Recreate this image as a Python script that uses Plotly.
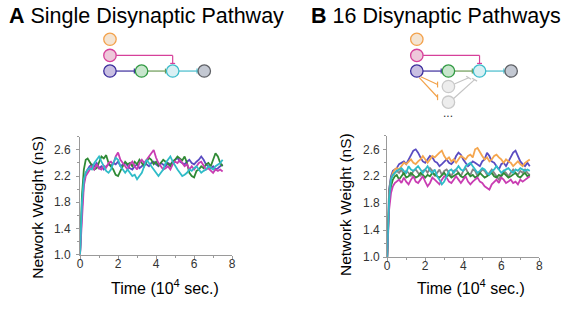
import plotly.graph_objects as go

# ---------------- data ----------------
time = [0, 0.1, 0.2, 0.3, 0.4, 0.5,
        0.625, 0.75, 0.875, 1.0, 1.125, 1.25, 1.375, 1.5,
        1.625, 1.75, 1.875, 2.0, 2.125, 2.25, 2.375, 2.5,
        2.625, 2.75, 2.875, 3.0, 3.125, 3.25, 3.375, 3.5,
        3.625, 3.75, 3.875, 4.0, 4.125, 4.25, 4.375, 4.5,
        4.625, 4.75, 4.875, 5.0, 5.125, 5.25, 5.375, 5.5,
        5.625, 5.75, 5.875, 6.0, 6.125, 6.25, 6.375, 6.5,
        6.625, 6.75, 6.875, 7.0, 7.125, 7.25, 7.375, 7.5]

a_purple = [1.0, 1.7, 2.1, 2.25, 2.3, 2.35,
            2.38, 2.35, 2.4, 2.32, 2.35, 2.3, 2.35, 2.38,
            2.35, 2.4, 2.38, 2.42, 2.35, 2.38, 2.4, 2.36,
            2.32, 2.3, 2.35, 2.38, 2.32, 2.35, 2.4, 2.38,
            2.35, 2.4, 2.42, 2.38, 2.35, 2.4, 2.38, 2.35,
            2.4, 2.38, 2.42, 2.45, 2.48, 2.42, 2.4, 2.38,
            2.42, 2.45, 2.4, 2.38, 2.42, 2.45, 2.5, 2.45,
            2.38, 2.35, 2.32, 2.35, 2.3, 2.32, 2.35, 2.38]
a_green = [1.0, 1.9, 2.3, 2.45, 2.47, 2.42,
           2.35, 2.3, 2.32, 2.42, 2.5, 2.47, 2.52, 2.4,
           2.35, 2.3, 2.22, 2.2, 2.28, 2.35, 2.42, 2.38,
           2.4, 2.35, 2.42, 2.38, 2.45, 2.4, 2.35, 2.42,
           2.48, 2.45, 2.38, 2.42, 2.36, 2.4, 2.45, 2.42,
           2.38, 2.35, 2.42, 2.45, 2.5, 2.47, 2.44, 2.5,
           2.4, 2.25, 2.2, 2.18, 2.28, 2.3, 2.35, 2.32,
           2.38, 2.4, 2.35, 2.45, 2.55, 2.5, 2.4, 2.35]
a_magenta = [1.0, 1.6, 2.05, 2.2, 2.25, 2.3,
             2.35, 2.3, 2.38, 2.32, 2.3, 2.36, 2.33, 2.4,
             2.42, 2.38, 2.5, 2.56, 2.45, 2.4, 2.35, 2.3,
             2.38, 2.42, 2.35, 2.3, 2.4, 2.45, 2.4, 2.45,
             2.5, 2.55, 2.6, 2.48, 2.4, 2.35, 2.3, 2.32,
             2.35, 2.3, 2.38, 2.42, 2.4, 2.45, 2.4, 2.35,
             2.38, 2.3, 2.35, 2.3, 2.35, 2.4, 2.42, 2.35,
             2.3, 2.32, 2.28, 2.25, 2.3, 2.28, 2.3, 2.27]
a_cyan = [1.0, 1.8, 2.15, 2.25, 2.3, 2.32,
          2.3, 2.4, 2.45, 2.5, 2.42, 2.35, 2.28, 2.25,
          2.3, 2.4, 2.48, 2.45, 2.35, 2.3, 2.25, 2.3,
          2.25, 2.2, 2.22, 2.15, 2.2, 2.25, 2.35, 2.45,
          2.4, 2.35, 2.3, 2.25, 2.2, 2.25, 2.3, 2.4,
          2.45, 2.5, 2.42, 2.35, 2.3, 2.25, 2.2, 2.22,
          2.25, 2.3, 2.28, 2.32, 2.35, 2.3, 2.25, 2.28,
          2.3, 2.35, 2.32, 2.3, 2.35, 2.38, 2.4, 2.45]

b_purple = [1.0, 2.0, 2.2, 2.28, 2.3, 2.32,
            2.38, 2.4, 2.42, 2.38, 2.45, 2.5, 2.58, 2.6,
            2.55, 2.48, 2.42, 2.4, 2.45, 2.5, 2.48, 2.42,
            2.4, 2.35, 2.38, 2.42, 2.45, 2.4, 2.38, 2.42,
            2.5, 2.55, 2.52, 2.45, 2.4, 2.35, 2.38, 2.42,
            2.4, 2.38, 2.35, 2.42, 2.45, 2.55, 2.5, 2.42,
            2.4, 2.35, 2.3, 2.38, 2.4, 2.35, 2.42, 2.5,
            2.55, 2.58, 2.5, 2.42, 2.38, 2.35, 2.4, 2.35]
b_orange = [1.0, 1.9, 2.15, 2.25, 2.3, 2.32,
            2.3, 2.35, 2.4, 2.38, 2.42, 2.45, 2.4, 2.38,
            2.42, 2.45, 2.5, 2.45, 2.4, 2.45, 2.5, 2.48,
            2.52, 2.55, 2.58, 2.5, 2.45, 2.48, 2.42, 2.45,
            2.4, 2.45, 2.5, 2.48, 2.45, 2.5, 2.52, 2.48,
            2.6, 2.62, 2.55, 2.5, 2.45, 2.48, 2.42, 2.45,
            2.5, 2.52, 2.48, 2.45, 2.4, 2.45, 2.42, 2.4,
            2.35, 2.38, 2.42, 2.38, 2.35, 2.4, 2.42, 2.45]
b_gray = [1.0, 2.0, 2.18, 2.22, 2.25, 2.28,
          2.25, 2.3, 2.22, 2.28, 2.25, 2.2, 2.28, 2.3,
          2.25, 2.2, 2.28, 2.3, 2.25, 2.32, 2.28, 2.2,
          2.25, 2.3, 2.22, 2.28, 2.3, 2.25, 2.2, 2.28,
          2.3, 2.25, 2.2, 2.28, 2.32, 2.25, 2.22, 2.3,
          2.28, 2.2, 2.25, 2.3, 2.28, 2.22, 2.25, 2.3,
          2.25, 2.2, 2.15, 2.22, 2.28, 2.25, 2.2, 2.25,
          2.3, 2.25, 2.22, 2.28, 2.25, 2.3, 2.25, 2.22]
b_green = [1.0, 1.8, 2.05, 2.15, 2.2, 2.22,
           2.15, 2.2, 2.25, 2.18, 2.2, 2.25, 2.22, 2.18,
           2.2, 2.25, 2.22, 2.18, 2.22, 2.2, 2.25, 2.22,
           2.2, 2.18, 2.22, 2.25, 2.2, 2.22, 2.18, 2.2,
           2.22, 2.25, 2.2, 2.18, 2.22, 2.25, 2.2, 2.22,
           2.18, 2.2, 2.25, 2.22, 2.18, 2.2, 2.22, 2.25,
           2.2, 2.18, 2.22, 2.2, 2.25, 2.22, 2.18, 2.2,
           2.22, 2.25, 2.2, 2.18, 2.22, 2.25, 2.2, 2.22]
b_magenta = [1.0, 1.7, 1.95, 2.05, 2.1, 2.12,
             2.15, 2.1, 2.18, 2.12, 2.08, 2.15, 2.2, 2.12,
             2.1, 2.15, 2.2, 2.12, 2.05, 2.1, 2.18, 2.15,
             2.12, 2.08, 2.15, 2.2, 2.18, 2.12, 2.1, 2.15,
             2.2, 2.15, 2.1, 2.15, 2.2, 2.12, 2.08, 2.12,
             2.15, 2.18, 2.12, 2.1, 2.05, 2.02, 2.0, 2.08,
             2.12, 2.15, 2.1, 2.18, 2.15, 2.1, 2.12, 2.15,
             2.1, 2.12, 2.08, 2.15, 2.12, 2.15, 2.18, 2.2]
b_cyan = [1.0, 1.85, 2.15, 2.22, 2.25, 2.28,
          2.3, 2.32, 2.28, 2.25, 2.35, 2.3, 2.28, 2.32,
          2.35, 2.3, 2.25, 2.3, 2.35, 2.28, 2.25, 2.3,
          2.2, 2.15, 2.08, 2.12, 2.2, 2.28, 2.3, 2.25,
          2.3, 2.35, 2.3, 2.28, 2.35, 2.38, 2.4, 2.35,
          2.3, 2.25, 2.28, 2.32, 2.3, 2.25, 2.22, 2.28,
          2.3, 2.35, 2.3, 2.25, 2.28, 2.3, 2.32, 2.28,
          2.25, 2.3, 2.28, 2.32, 2.3, 2.28, 2.3, 2.28]

x_ticks = [0, 2, 4, 6, 8]
y_ticks = [1.0, 1.4, 1.8, 2.2, 2.6]

titles = ["<b>A</b> Single Disynaptic Pathway", "<b>B</b> 16 Disynaptic Pathways"]
y_title = "Network Weight (nS)"
x_title = "Time (10<sup>4</sup> sec.)"

# ---------------- styles ----------------
W, H = 567, 309
C_PURPLE = "#5a4cc2"
C_GREEN = "#2f8a35"
C_MAGENTA = "#c93db2"
C_CYAN = "#2fbcc8"
C_ORANGE = "#f5a64e"
C_GRAY = "#858585"
FONT = "Liberation Sans, Arial, sans-serif"


def px(x):
    return x / W


def py(y):
    return 1 - y / H


fig = go.Figure()

series_a = [(a_purple, C_PURPLE), (a_green, C_GREEN), (a_magenta, C_MAGENTA), (a_cyan, C_CYAN)]
series_b = [(b_purple, C_PURPLE), (b_orange, C_ORANGE), (b_gray, C_GRAY),
            (b_green, C_GREEN), (b_magenta, C_MAGENTA), (b_cyan, C_CYAN)]

for vals, col in series_a:
    fig.add_trace(go.Scatter(x=time, y=vals, mode="lines", line=dict(color=col, width=1.8),
                             xaxis="x", yaxis="y", showlegend=False, hoverinfo="skip"))
for vals, col in series_b:
    fig.add_trace(go.Scatter(x=time, y=vals, mode="lines", line=dict(color=col, width=1.8),
                             xaxis="x2", yaxis="y2", showlegend=False, hoverinfo="skip"))

axis_common = dict(showline=True, linecolor="#9a9a9a", linewidth=1, showgrid=False, zeroline=False,
                   ticks="outside", ticklen=3, tickcolor="#9a9a9a", tickwidth=1,
                   tickfont=dict(family=FONT, size=12, color="#333333"), fixedrange=True)

xa = dict(axis_common, range=[0, 8], tickvals=x_ticks, ticktext=[str(v) for v in x_ticks],
          ticklabelstandoff=-5,
          minor=dict(dtick=1, ticklen=2, tickcolor="#9a9a9a", ticks="outside"))
ya = dict(axis_common, range=[1.0, 2.8], tickvals=y_ticks, ticktext=["%.1f" % v for v in y_ticks],
          minor=dict(tick0=1.0, dtick=0.2, ticklen=2, tickcolor="#9a9a9a", ticks="outside"))

fig.update_layout(
    width=W, height=H, margin=dict(l=0, r=0, t=0, b=0),
    paper_bgcolor="white", plot_bgcolor="white",
    xaxis=dict(xa, domain=[px(78), px(232)], anchor="y"),
    yaxis=dict(ya, domain=[py(260.5), py(140)], anchor="x", ticklabelstandoff=3),
    xaxis2=dict(xa, domain=[px(389), px(543)], anchor="y2"),
    yaxis2=dict(ya, domain=[py(263), py(139)], anchor="x2", ticklabelstandoff=1),
)

ann = []
# panel titles
for txt, xl in [(titles[0], 4), (titles[1], 310)]:
    ann.append(dict(text=txt, x=px(xl), y=py(16), xref="paper", yref="paper", showarrow=False,
                    xanchor="left", yanchor="middle",
                    font=dict(family=FONT, size=21.5, color="black")))

# axis titles
for xc, yc in [(35, 212), (347, 209)]:
    ann.append(dict(text=y_title, x=px(xc), y=py(yc), xref="paper", yref="paper", showarrow=False,
                    xanchor="center", yanchor="middle",
                    textangle=-90, font=dict(family=FONT, size=15.5, color="black")))
for xc in [164, 474]:
    ann.append(dict(text=x_title, x=px(xc), y=py(294), xref="paper", yref="paper", showarrow=False,
                    xanchor="center", yanchor="middle",
                    font=dict(family=FONT, size=16, color="black")))
# dots in diagram B
ann.append(dict(text="...", x=px(451), y=py(116), xref="paper", yref="paper", showarrow=False,
                xanchor="center", yanchor="middle",
                font=dict(family=FONT, size=12, color="#333333")))

shapes = []
R = 6.3


def circle(cx, cy, fill, edge):
    shapes.append(dict(type="circle", xref="paper", yref="paper",
                       x0=px(cx - R), x1=px(cx + R), y0=py(cy + R), y1=py(cy - R),
                       fillcolor=fill, line=dict(color=edge, width=1.3)))


def seg(x0, y0, x1, y1, col, w=1.2):
    shapes.append(dict(type="line", xref="paper", yref="paper",
                       x0=px(x0), y0=py(y0), x1=px(x1), y1=py(y1), line=dict(color=col, width=w)))


def diagram(ox):
    cy = 72.7
    xs = [ox, ox + 32, ox + 63.5, ox + 95.5]
    seg(xs[0] + R, cy, xs[1] - R, cy, "#3b2d9c")
    seg(xs[1] - R - 1, cy - 2.5, xs[1] - R - 1, cy + 2.5, "#3b2d9c")
    seg(xs[1] + R, cy, xs[2] - R, cy, "#6b9a55")
    seg(xs[2] - R - 1, cy - 2.5, xs[2] - R - 1, cy + 2.5, "#6b9a55")
    seg(xs[2] + R, cy, xs[3] - R, cy, "#45bccb")
    seg(xs[3] - R - 1, cy - 2.5, xs[3] - R - 1, cy + 2.5, "#45bccb")
    seg(ox + R, 56.7, xs[2], 56.7, "#d6409a")
    seg(xs[2], 56.7, xs[2], cy - R - 1, "#d6409a")
    seg(xs[2] - 2.5, cy - R - 1.5, xs[2] + 2.5, cy - R - 1.5, "#d6409a")
    circle(ox, 40.2, "#f4e4d2", "#f3a24c")
    circle(ox, 56.7, "#eec8da", "#d6409a")
    circle(ox, cy, "#c9bfe2", "#3b2d9c")
    circle(xs[1], cy, "#c8e6cd", "#319a43")
    circle(xs[2], cy, "#d9f0f4", "#3cbccb")
    circle(xs[3], cy, "#c3c8d2", "#5f6166")


diagram(108.3)
# extra pathways in B (drawn beneath the main diagram)
seg(423, 78.5, 440, 86.5, "#f2a24a")
seg(440, 83.5, 440, 89.5, "#f2a24a")
seg(421.5, 79.5, 440, 99.5, "#f2a24a")
seg(440, 96.5, 440, 102.5, "#f2a24a")
seg(457, 86, 471.5, 79.5, "#c4c4c4")
seg(469, 78, 474, 81, "#c4c4c4")
seg(456, 101, 477.5, 81.5, "#c4c4c4")
seg(475, 80, 480, 83, "#c4c4c4")
circle(451, 88.5, "#ededed", "#c9c9c9")
circle(451, 104.5, "#ededed", "#c9c9c9")
diagram(419)

fig.update_layout(annotations=ann, shapes=shapes)
fig.write_html("out.html", config={"displayModeBar": False},
               post_script="document.body.style.margin='0px';document.documentElement.style.overflow='hidden';")
